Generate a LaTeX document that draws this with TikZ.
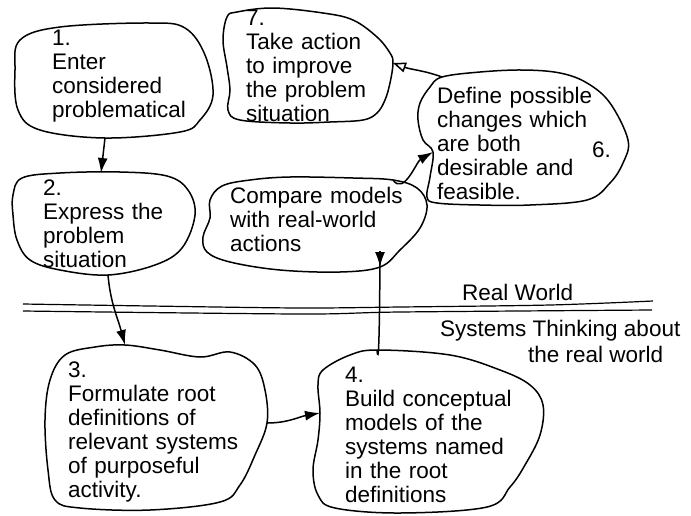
\documentclass[tikz,border=0pt]{standalone}
\usepackage{fontspec}
\setmainfont{Liberation Sans}
\usetikzlibrary{arrows.meta}
\begin{document}
\begin{tikzpicture}[x=1pt,y=-1pt,
  blob/.style={draw, line width=1.5pt, line join=round},
  sep/.style={draw, line width=1.2pt},
  lbl/.style={anchor=base west, inner sep=0pt, align=left, text width=230pt, font=\fontsize{22.5}{24}\selectfont},
  word/.style={anchor=base west, inner sep=0pt, font=\fontsize{22.5}{24}\selectfont},
  conn/.style={line width=1.5pt, -{Latex[length=15pt,width=10pt]}},
  connopen/.style={line width=1.5pt, -{Triangle[open,length=13pt,width=10pt,line width=1.5pt]}}]
\useasboundingbox (0,0) rectangle (691,515);

% blob 1
\draw[blob] plot[smooth cycle, tension=0.6] coordinates {(15,70) (20,40) (60,27) (150,23) (185,28) (205,55) (213,95) (200,120) (180,132) (105,138) (40,130) (18,110)};
% blob 2
\draw[blob] plot[smooth cycle, tension=0.6] coordinates {(13,195) (22,178) (60,173) (120,172) (167,176) (188,190) (195,215) (182,248) (155,265) (108,275) (60,270) (30,260) (17,240) (13,215)};
% blob 3
\draw[blob] plot[smooth cycle, tension=0.6] coordinates {(50,380) (65,355) (95,347) (125,345) (160,350) (200,357) (230,352) (255,365) (265,390) (267,423) (255,455) (240,485) (220,502) (150,510) (80,508) (55,500) (48,470) (45,420)};
% blob 4
\draw[blob] plot[smooth cycle, tension=0.6] coordinates {(318,385) (323,370) (350,355) (378,350) (450,355) (500,370) (530,385) (543,405) (540,435) (525,465) (510,487) (487,507) (400,513) (335,508) (318,495) (313,470) (318,440) (320,413)};
% blob 5
\draw[blob] plot[smooth cycle, tension=0.6] coordinates {(210,200) (222,186) (250,180) (290,177) (353,178) (393,180) (417,188) (427,205) (420,228) (400,250) (380,267) (340,272) (280,270) (230,262) (207,252) (203,237) (210,218)};
% blob 6
\draw[blob] plot[smooth cycle, tension=0.6] coordinates {(442,77) (480,72) (523,70) (560,73) (587,83) (610,103) (628,140) (623,163) (610,183) (587,200) (530,205) (480,205) (437,203) (427,197) (430,177) (433,152) (423,140) (418,120) (420,103) (430,87)};
% blob 7
\draw[blob] plot[smooth cycle, tension=0.6] coordinates {(227,17) (237,12) (273,8) (323,13) (353,20) (377,37) (390,53) (393,63) (390,83) (385,100) (377,113) (363,120) (330,122) (290,123) (240,120) (228,110) (230,90) (227,67) (223,40)};

% separator lines
\draw[sep] plot[smooth, tension=0.5] coordinates {(23,304) (150,306) (300,308) (400,307) (550,305) (653,301)};
\draw[sep] plot[smooth, tension=0.5] coordinates {(23,311) (300,314) (400,312) (652,310)};

% texts
\node[lbl] (t1) at (52,45) {1.\\Enter\\considered\\problematical};
\node[lbl] (t2) at (43,195) {2.\\Express the\\problem\\situation};
\node[lbl] (t3) at (68,377) {3.\\Formulate root\\definitions of\\relevant systems\\of purposeful\\activity.};
\node[lbl] (t4) at (345,382) {4.\\Build conceptual\\models of the\\systems named\\in the root\\definitions};
\node[lbl] (t5) at (230,203) {Compare models\\with real-world\\actions};
\node[lbl] (t6) at (437,103) {Define possible\\changes which\\are both\\desirable and\\feasible.};
\node[word] (n6) at (592,157) {6.};
\node[lbl] (t7) at (246,25) {7.\\Take action\\to improve\\the problem\\situation};
\node[word] (rw) at (462,300) {Real World};
\node[word] (st1) at (440,336) {Systems Thinking about};
\node[word] (st2) at (528,362) {the real world};

% connector end points
\coordinate (c1s) at (105,138);
\coordinate (c2n) at (101,173);
\coordinate (c2s) at (108,275);
\coordinate (c3n) at (125,345);
\coordinate (c3e) at (267,423);
\coordinate (c4w) at (320,413);
\coordinate (c4n) at (377,350);
\coordinate (c5s) at (380,267);
\coordinate (c5ne) at (393,180);
\coordinate (c6w) at (433,152);
\coordinate (c6nw) at (442,77);
\coordinate (c7e) at (393,63);

% connectors
\draw[conn] (c1s) -- (c2n);
\draw[conn] (c2s) to[out=-85,in=105] (c3n);
\draw[conn] (c3e) to[out=0,in=190] (c4w);
\draw[conn] (c4n) to[out=-85,in=90] (c5s);
\draw[conn] (c5ne) to[out=-55,in=210] (c6w);
\draw[connopen] (c6nw) to[out=160,in=-20] (c7e);
\end{tikzpicture}
\end{document}
